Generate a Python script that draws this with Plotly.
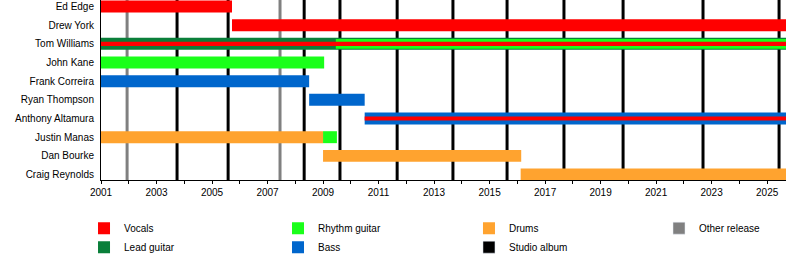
import plotly.graph_objects as go

# Band members, top to bottom
members = ["Ed Edge", "Drew York", "Tom Williams", "John Kane", "Frank Correira",
           "Ryan Thompson", "Anthony Altamura", "Justin Manas", "Dan Bourke", "Craig Reynolds"]

END = 2025.68

# Primary roles (full-height bars): member, start, end
vocals_member = ["Ed Edge", "Drew York"]
vocals_start = [2001.0, 2005.72]
vocals_end = [2005.72, END]

lead_member = ["Tom Williams"]
lead_start = [2001.0]
lead_end = [END]

rhythm_member = ["John Kane", "Justin Manas"]
rhythm_start = [2001.0, 2009.0]
rhythm_end = [2009.04, 2009.5]

bass_member = ["Frank Correira", "Ryan Thompson", "Anthony Altamura"]
bass_start = [2001.0, 2008.5, 2010.5]
bass_end = [2008.5, 2010.5, END]

drums_member = ["Justin Manas", "Dan Bourke", "Craig Reynolds"]
drums_start = [2001.0, 2009.0, 2016.12]
drums_end = [2009.0, 2016.14, END]

# Secondary roles (drawn as narrower stripes on top)
rhythm2_member = ["Tom Williams"]
rhythm2_start = [2009.46]
rhythm2_end = [END]

vocals2_member = ["Tom Williams", "Anthony Altamura"]
vocals2_start = [2001.0, 2010.5]
vocals2_end = [END, END]

# Release dates
studio_albums = [2003.74, 2005.58, 2008.32, 2009.61, 2011.67, 2013.68,
                 2015.63, 2017.68, 2019.81, 2022.69, 2025.43]
other_releases = [2001.94, 2007.45]

tick_years = list(range(2001, 2026, 2))

C_VOC = "#ff0000"
C_LEAD = "#0a7f3a"
C_RHY = "#1aff1a"
C_BASS = "#0066cc"
C_DRUM = "#ffa32f"
C_STUDIO = "#000000"
C_OTHER = "#808080"

row = {m: i for i, m in enumerate(members)}

fig = go.Figure()


def add_bars(name, mem, start, end, color, width, show, legend="legend", rank=1000):
    fig.add_trace(go.Bar(
        name=name,
        y=[row[m] for m in mem],
        x=[e - s for s, e in zip(start, end)],
        base=start,
        orientation="h",
        width=width,
        marker=dict(color=color, line=dict(width=0)),
        showlegend=show,
        legend=legend,
        legendrank=rank,
        hoverinfo="skip",
    ))


FULL = 0.64
MID = 0.53
THIN = 0.22

add_bars("Vocals", vocals_member, vocals_start, vocals_end, C_VOC, FULL, True, "legend", 1)
add_bars("Lead guitar", lead_member, lead_start, lead_end, C_LEAD, FULL, True, "legend", 2)
add_bars("Rhythm guitar", rhythm_member, rhythm_start, rhythm_end, C_RHY, FULL, True, "legend2", 1)
add_bars("Bass", bass_member, bass_start, bass_end, C_BASS, FULL, True, "legend2", 2)
add_bars("Drums", drums_member, drums_start, drums_end, C_DRUM, FULL, True, "legend3", 1)
add_bars("Rhythm guitar", rhythm2_member, rhythm2_start, rhythm2_end, C_RHY, MID, False)
add_bars("Vocals", vocals2_member, vocals2_start, vocals2_end, C_VOC, THIN, False)

# Legend-only entries for release markers
for nm, col, lg, rk in [("Studio album", C_STUDIO, "legend3", 2), ("Other release", C_OTHER, "legend4", 1)]:
    fig.add_trace(go.Bar(name=nm, x=[None], y=[None], orientation="h",
                         marker=dict(color=col), showlegend=True, legend=lg, legendrank=rk))

# Release lines behind the bars
for yr in studio_albums:
    fig.add_shape(type="line", x0=yr, x1=yr, y0=0, y1=1, xref="x", yref="paper",
                  line=dict(color=C_STUDIO, width=3), layer="below")
for yr in other_releases:
    fig.add_shape(type="line", x0=yr, x1=yr, y0=0, y1=1, xref="x", yref="paper",
                  line=dict(color=C_OTHER, width=3), layer="below")

legend_style = dict(orientation="v", xanchor="left", y=-0.187, yanchor="top",
                    traceorder="normal", font=dict(size=10),
                    bgcolor="rgba(0,0,0,0)", tracegroupgap=0)

fig.update_layout(
    width=800, height=260,
    margin=dict(l=101, r=14, t=0, b=80, autoexpand=False),
    paper_bgcolor="white", plot_bgcolor="white",
    barmode="overlay",
    font=dict(family="Liberation Sans, Arial, sans-serif", size=10, color="#000"),
    showlegend=True,
    legend=dict(x=-0.0248, **legend_style),
    legend2=dict(x=0.2584, **legend_style),
    legend3=dict(x=0.5372, **legend_style),
    legend4=dict(x=0.8146, **legend_style),
    xaxis=dict(range=[2001, END], tickmode="array", tickvals=tick_years,
               ticktext=[str(y) for y in tick_years],
               showgrid=False, zeroline=False, showline=True, linecolor="#000", linewidth=1,
               ticks="outside", ticklen=3, tickcolor="#000", tickwidth=1,
               minor=dict(dtick=1, tick0=2001, ticks="outside", ticklen=3,
                          tickcolor="#000", showgrid=False)),
    yaxis=dict(range=[9.293, -0.348], tickmode="array",
               tickvals=list(range(len(members))), ticktext=members,
               showgrid=False, zeroline=False, showline=True, linecolor="#000", linewidth=1,
               ticks="", ticklabelstandoff=4),
)

fig.write_html("out.html")
